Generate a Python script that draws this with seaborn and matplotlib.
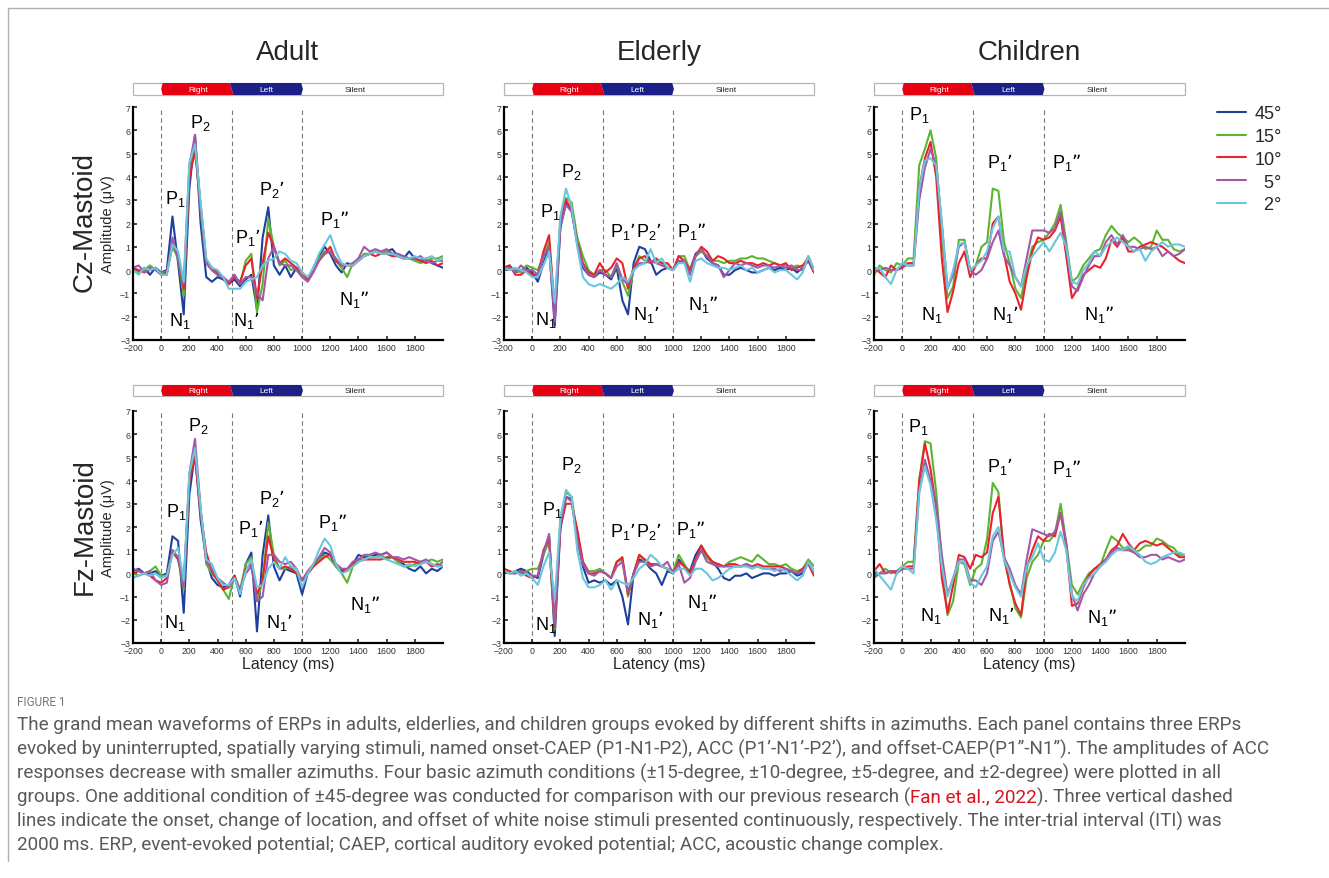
import matplotlib
matplotlib.use("Agg")
import matplotlib.pyplot as plt
from matplotlib.lines import Line2D
from matplotlib.patches import Rectangle
import pandas as pd
import seaborn as sns

# ---- data (uV), one value every 40 ms ----
LATENCY = [-200, -160, -120, -80, -40, 0, 40, 80, 120, 160,
           200, 240, 280, 320, 360, 400, 440, 480, 520, 560,
           600, 640, 680, 720, 760, 800, 840, 880, 920, 960,
           1000, 1040, 1080, 1120, 1160, 1200, 1240, 1280, 1320, 1360,
           1400, 1440, 1480, 1520, 1560, 1600, 1640, 1680, 1720, 1760,
           1800, 1840, 1880, 1920, 1960, 2000]

CONDITIONS = ["45°", "15°", "10°", "5°", "2°"]
COLORS = ["#1f3f9e", "#5cb531", "#e8232a", "#a456a8", "#6ac6dc"]
GROUPS = ["Adult", "Elderly", "Children"]
ELECTRODES = ["Cz-Mastoid", "Fz-Mastoid"]
STIM_EVENTS = [0, 500, 1000]          # onset, change of location, offset
STIM_NAMES = ["Right", "Left", "Silent"]

ADULT_CZ_45 = [0.1, -0.1, 0.1, -0.2, 0.1, -0.1, 0.0, 2.3, 0.3, -1.9,
               3.5, 5.8, 2.0, -0.3, -0.5, -0.3, -0.4, -0.6, -0.4, -0.7,
               -0.4, -0.2, -1.7, 1.4, 2.7, 0.2, -0.2, 0.2, -0.3, 0.1,
               -0.2, -0.4, 0.1, 0.6, 1.0, 0.7, 0.2, -0.1, 0.3, 0.2,
               0.5, 0.6, 0.7, 0.8, 0.7, 0.8, 0.9, 0.6, 0.5, 0.8,
               0.5, 0.4, 0.5, 0.3, 0.2, 0.1]
ADULT_CZ_15 = [0.0, -0.1, 0.0, 0.2, 0.0, -0.1, -0.1, 1.0, 0.5, -1.1,
               4.3, 5.5, 2.6, 0.3, 0.0, -0.2, -0.3, -0.6, -0.2, -0.6,
               0.4, 0.7, -1.8, -0.6, 2.2, 1.0, 0.2, 0.4, 0.0, 0.1,
               -0.2, -0.4, 0.0, 0.5, 0.8, 0.8, 0.4, 0.1, -0.3, 0.3,
               0.4, 0.7, 0.7, 0.8, 0.7, 0.8, 0.7, 0.6, 0.6, 0.5,
               0.4, 0.3, 0.4, 0.5, 0.5, 0.6]
ADULT_CZ_10 = [0.1, 0.0, -0.1, 0.0, 0.1, -0.2, -0.1, 1.2, 0.6, -0.8,
               4.0, 5.1, 2.8, 0.4, 0.1, -0.1, -0.3, -0.6, -0.3, -0.5,
               0.2, 0.5, -1.2, 0.3, 1.6, 1.0, 0.3, 0.5, 0.3, 0.1,
               -0.1, -0.4, 0.0, 0.4, 0.7, 1.0, 0.4, 0.2, 0.2, 0.2,
               0.4, 0.6, 0.7, 0.6, 0.7, 0.7, 0.6, 0.6, 0.5, 0.5,
               0.5, 0.4, 0.3, 0.4, 0.2, 0.3]
ADULT_CZ_5 = [0.1, 0.2, -0.1, 0.1, 0.0, -0.2, -0.2, 1.4, 0.5, -0.6,
              4.5, 5.8, 2.6, 0.3, 0.0, -0.2, -0.3, -0.5, -0.2, -0.6,
              -0.3, -0.3, -1.0, -1.3, 0.5, 1.0, 0.3, 0.2, 0.2, 0.0,
              -0.3, -0.5, -0.1, 0.4, 0.7, 0.8, 0.5, 0.2, 0.2, 0.3,
              0.5, 1.0, 0.8, 0.9, 0.8, 0.9, 0.7, 0.7, 0.6, 0.5,
              0.5, 0.6, 0.4, 0.3, 0.4, 0.4]
ADULT_CZ_2 = [0.0, -0.2, 0.1, 0.0, 0.1, -0.2, -0.2, 1.1, 0.8, -0.5,
              4.6, 5.4, 2.9, 0.5, 0.1, 0.0, -0.3, -0.8, -0.8, -0.8,
              -0.5, -0.4, -0.3, 0.2, 0.4, 0.5, 0.8, 0.7, 0.4, 0.3,
              -0.1, -0.3, 0.1, 0.7, 1.1, 1.5, 0.8, 0.3, 0.2, 0.2,
              0.4, 0.6, 0.7, 0.8, 0.7, 0.7, 0.7, 0.6, 0.5, 0.5,
              0.6, 0.5, 0.5, 0.6, 0.4, 0.5]

ADULT_FZ_45 = [0.1, 0.2, 0.0, 0.0, 0.1, -0.1, 0.0, 1.6, 1.4, -1.7,
               3.4, 5.2, 2.3, 0.6, -0.2, -0.5, -0.6, -0.5, -0.1, -1.0,
               0.4, 0.9, -2.5, 0.8, 2.5, 0.3, -0.3, 0.2, 0.1, 0.0,
               -0.9, 0.0, 0.3, 0.6, 0.9, 0.8, 0.3, 0.1, 0.1, 0.4,
               0.8, 0.7, 0.7, 0.8, 0.8, 0.9, 0.7, 0.5, 0.4, 0.2,
               0.1, 0.3, 0.0, 0.2, 0.1, 0.3]
ADULT_FZ_15 = [0.0, -0.1, 0.0, 0.1, 0.3, -0.1, -0.1, 0.9, 0.6, -0.7,
               4.0, 5.3, 2.7, 0.4, 0.0, -0.3, -0.7, -1.1, -0.1, -0.7,
               0.4, 0.7, -1.2, -0.3, 2.2, 0.8, 0.2, 0.2, 0.3, 0.0,
               -0.3, 0.0, 0.3, 0.6, 0.8, 0.6, 0.3, 0.0, -0.4, 0.3,
               0.5, 0.6, 0.7, 0.7, 0.8, 0.6, 0.7, 0.5, 0.3, 0.3,
               0.4, 0.5, 0.5, 0.6, 0.5, 0.6]
ADULT_FZ_10 = [0.0, 0.1, 0.0, -0.1, -0.3, -0.4, -0.2, 1.0, 0.6, -0.4,
               4.0, 5.0, 2.6, 0.9, 0.1, -0.3, -0.7, -0.6, -0.1, -0.8,
               0.2, 0.4, -0.9, -0.3, 1.6, 0.6, 0.2, 0.3, 0.2, 0.0,
               -0.3, 0.0, 0.3, 0.5, 0.7, 0.8, 0.4, 0.2, 0.1, 0.4,
               0.6, 0.6, 0.6, 0.6, 0.6, 0.7, 0.7, 0.6, 0.5, 0.5,
               0.5, 0.4, 0.5, 0.3, 0.4, 0.3]
ADULT_FZ_5 = [0.2, 0.1, 0.0, 0.1, -0.3, -0.5, -0.4, 1.0, 0.7, -0.6,
              4.3, 5.8, 2.8, 0.5, 0.2, -0.2, -0.4, -0.6, -0.2, -0.7,
              0.0, 0.3, -1.2, -1.0, 0.8, 0.8, 0.5, 0.4, 0.5, 0.2,
              -0.3, 0.1, 0.4, 0.7, 1.1, 0.9, 0.4, 0.2, 0.2, 0.5,
              0.6, 0.8, 0.8, 0.9, 0.8, 0.9, 0.7, 0.7, 0.6, 0.7,
              0.6, 0.5, 0.6, 0.4, 0.3, 0.5]
ADULT_FZ_2 = [-0.2, -0.1, 0.0, -0.1, 0.0, -0.2, -0.1, 0.8, 1.1, -0.3,
              4.3, 5.4, 2.8, 0.6, 0.4, -0.2, -0.5, -0.5, -0.2, -0.9,
              0.1, 0.6, -0.6, -0.5, 0.2, 0.5, 0.2, 0.7, 0.3, 0.2,
              -0.6, 0.0, 0.4, 1.0, 1.5, 1.2, 0.4, 0.0, 0.1, 0.3,
              0.5, 0.6, 0.7, 0.7, 0.7, 0.6, 0.5, 0.4, 0.3, 0.4,
              0.3, 0.4, 0.5, 0.4, 0.3, 0.3]

ELDERLY_CZ_45 = [0.1, 0.2, -0.1, 0.0, 0.1, -0.1, -0.5, 0.3, 1.0, -2.4,
                 1.8, 2.9, 2.6, 1.2, 0.1, -0.2, -0.3, -0.1, -0.2, -0.4,
                 0.1, -1.3, -1.9, 0.3, 1.0, 0.9, 0.4, -0.2, 0.0, 0.1,
                 0.0, 0.4, 0.3, 0.0, 0.7, 0.9, 0.5, 0.3, 0.2, -0.2,
                 -0.2, 0.0, 0.1, 0.0, -0.1, -0.1, 0.0, 0.1, 0.0, 0.1,
                 0.0, 0.1, -0.1, 0.1, 0.4, -0.1]
ELDERLY_CZ_15 = [0.0, 0.1, 0.0, -0.1, 0.2, 0.1, 0.0, 0.6, 1.2, -1.8,
                 2.2, 3.1, 2.9, 1.4, 0.6, 0.0, -0.2, 0.0, 0.0, -0.3,
                 0.2, -0.5, -1.1, 0.0, 0.6, 0.4, 0.3, 0.4, 0.3, 0.1,
                 0.0, 0.6, 0.6, 0.0, 0.6, 0.8, 0.6, 0.4, 0.4, 0.3,
                 0.4, 0.4, 0.5, 0.5, 0.6, 0.5, 0.5, 0.4, 0.3, 0.2,
                 0.2, 0.1, 0.2, 0.1, 0.6, 0.0]
ELDERLY_CZ_10 = [0.1, 0.2, -0.2, -0.2, 0.0, -0.2, -0.2, 0.8, 1.5, -1.7,
                 2.0, 3.0, 2.6, 1.2, 0.3, -0.1, -0.2, 0.3, -0.1, 0.1,
                 0.5, 0.3, -0.8, 0.1, 0.5, 0.6, 0.3, 0.5, 0.3, 0.3,
                 0.0, 0.6, 0.4, 0.0, 0.6, 1.0, 0.8, 0.4, 0.6, 0.5,
                 0.3, 0.3, 0.4, 0.3, 0.3, 0.2, 0.3, 0.2, 0.3, 0.2,
                 0.3, 0.0, 0.1, 0.2, 0.5, -0.1]
ELDERLY_CZ_5 = [0.0, 0.1, -0.1, 0.2, 0.0, 0.0, -0.2, 0.6, 1.0, -2.2,
                1.9, 2.8, 2.5, 1.1, 0.2, -0.2, -0.3, 0.0, -0.2, -0.3,
                0.3, -0.4, -0.6, 0.0, 0.3, 0.3, 0.4, 0.3, 0.2, 0.1,
                0.0, 0.4, 0.4, -0.2, 0.6, 0.9, 0.6, 0.3, 0.2, -0.3,
                0.0, 0.3, 0.2, 0.3, 0.2, 0.1, 0.2, 0.2, 0.1, 0.2,
                0.1, 0.2, 0.0, 0.0, 0.5, 0.0]
ELDERLY_CZ_2 = [0.1, 0.0, 0.1, 0.0, -0.1, -0.3, -0.3, 0.2, 0.8, -1.4,
                2.3, 3.5, 2.7, 1.0, -0.3, -0.6, -0.7, -0.6, -0.7, -0.8,
                -0.6, -0.3, -0.5, 0.0, 0.2, 0.3, 0.9, 0.3, 0.5, 0.1,
                0.0, 0.3, 0.3, -0.5, 0.4, 0.5, 0.3, 0.2, 0.1, 0.1,
                0.0, 0.1, 0.2, 0.0, 0.1, -0.1, 0.0, 0.1, -0.1, 0.0,
                0.0, -0.2, -0.4, -0.1, 0.6, 0.0]

ELDERLY_FZ_45 = [0.1, 0.0, 0.1, 0.2, 0.1, -0.1, -0.2, 0.8, 1.6, -2.7,
                 1.9, 3.3, 3.2, 1.5, 0.3, -0.4, -0.3, -0.4, -0.3, -0.5,
                 -0.3, -1.0, -2.2, 0.0, 0.6, 0.5, 0.2, 0.0, -0.5, 0.1,
                 0.0, 0.6, 0.3, 0.1, 0.8, 1.2, 0.7, 0.5, 0.2, -0.2,
                 -0.3, -0.1, -0.1, 0.0, -0.2, -0.1, 0.0, 0.0, -0.1, 0.0,
                 0.0, 0.1, -0.1, 0.0, 0.5, 0.0]
ELDERLY_FZ_15 = [0.1, 0.0, 0.1, 0.0, 0.1, 0.2, 0.2, 0.8, 1.4, -2.4,
                 2.3, 3.5, 3.3, 1.6, 0.5, 0.1, 0.1, 0.2, 0.0, -0.2,
                 0.5, 0.6, -1.0, 0.0, 0.8, 0.5, 0.3, 0.4, 0.3, 0.2,
                 0.1, 0.8, 0.4, 0.0, 0.6, 1.0, 0.7, 0.4, 0.4, 0.3,
                 0.5, 0.6, 0.7, 0.6, 0.5, 0.8, 0.6, 0.4, 0.4, 0.3,
                 0.4, 0.2, 0.1, 0.2, 0.6, 0.3]
ELDERLY_FZ_10 = [0.2, 0.1, 0.0, 0.1, -0.1, -0.2, -0.1, 1.0, 1.5, -2.3,
                 2.0, 3.0, 3.0, 1.9, 0.5, 0.0, 0.0, 0.1, 0.0, -0.2,
                 0.5, 0.7, -0.9, 0.0, 0.8, 0.6, 0.4, 0.4, 0.3, 0.2,
                 0.0, 0.5, 0.3, 0.0, 0.6, 1.2, 0.8, 0.5, 0.4, 0.3,
                 0.4, 0.4, 0.3, 0.4, 0.3, 0.4, 0.3, 0.3, 0.3, 0.3,
                 0.2, 0.1, 0.0, 0.2, 0.4, -0.1]
ELDERLY_FZ_5 = [0.1, 0.0, 0.0, 0.1, 0.0, -0.1, -0.1, 0.9, 1.7, -2.2,
                2.1, 3.3, 3.1, 1.4, 0.4, 0.0, -0.1, 0.1, 0.0, -0.2,
                0.3, 0.5, -0.8, 0.0, 0.5, 0.5, 0.3, 0.4, 0.3, 0.5,
                0.0, 0.4, -0.4, -0.2, 0.5, 1.0, 0.5, 0.4, 0.3, 0.3,
                0.3, 0.3, 0.3, 0.4, 0.3, 0.3, 0.2, 0.2, 0.2, 0.1,
                0.2, 0.1, 0.0, 0.1, 0.5, 0.0]
ELDERLY_FZ_2 = [0.1, 0.0, 0.1, -0.1, 0.0, -0.2, -0.5, 0.3, 0.9, -1.1,
                2.4, 3.6, 3.3, 1.0, -0.2, -0.6, -0.6, -0.5, -0.3, -0.7,
                -0.3, -0.4, -0.5, -0.2, 0.2, 0.4, 0.8, 0.6, 0.3, 0.2,
                0.0, 0.2, 0.2, -0.1, 0.2, 0.2, 0.0, -0.3, -0.2, 0.0,
                0.2, 0.3, 0.3, 0.3, 0.2, 0.3, 0.2, 0.2, 0.1, 0.2,
                0.1, -0.1, -0.3, -0.1, 0.5, 0.1]

# children were not tested at 45 deg
CHILDREN_CZ_15 = [-0.2, 0.2, 0.0, -0.1, 0.3, 0.2, 0.5, 0.5, 4.5, 5.2,
                  6.0, 4.8, 1.5, -1.2, -0.7, 1.3, 1.3, 0.0, 0.2, 1.0,
                  1.2, 3.5, 3.4, 1.2, 0.3, -0.8, -1.2, 0.0, 1.0, 1.2,
                  1.3, 1.6, 2.0, 2.8, 1.2, -0.5, -0.3, 0.2, 0.5, 0.8,
                  0.9, 1.5, 1.9, 1.6, 1.4, 1.2, 1.4, 1.2, 0.9, 1.0,
                  1.7, 1.3, 1.3, 0.9, 0.8, 0.9]
CHILDREN_CZ_10 = [0.1, -0.1, -0.3, 0.2, 0.0, 0.1, 0.3, 0.3, 3.5, 4.8,
                  5.5, 4.0, 0.5, -1.8, -0.9, 0.3, 0.8, -0.3, 0.2, 0.5,
                  0.5, 2.0, 2.3, 0.7, -0.5, -1.0, -1.7, -0.3, 0.8, 1.4,
                  1.3, 1.4, 1.7, 2.3, 0.6, -1.2, -0.8, -0.2, 0.0, 0.2,
                  0.1, 0.5, 1.3, 1.0, 1.4, 0.8, 0.8, 1.0, 1.1, 1.2,
                  1.1, 1.0, 0.8, 0.6, 0.4, 0.3]
CHILDREN_CZ_5 = [0.1, 0.0, 0.1, 0.0, 0.0, 0.2, 0.2, 0.2, 3.0, 4.4,
                 5.2, 4.5, 2.0, -0.8, -0.2, 1.0, 1.2, 0.0, -0.2, 0.0,
                 0.5, 1.2, 1.7, 0.6, 0.2, -0.3, -0.7, 0.5, 1.7, 1.7,
                 1.7, 1.6, 1.8, 2.5, 1.0, -0.7, -0.9, -0.3, 0.2, 0.6,
                 0.6, 1.2, 1.5, 1.1, 1.5, 1.0, 1.0, 0.9, 1.0, 0.9,
                 1.0, 0.6, 0.8, 0.6, 0.7, 0.9]
CHILDREN_CZ_2 = [0.0, 0.1, -0.3, -0.6, 0.0, 0.3, 0.2, 0.2, 3.5, 4.7,
                 4.8, 4.5, 2.0, -0.8, 0.0, 1.1, 1.2, 0.0, 0.2, 0.4,
                 0.8, 1.8, 2.3, 0.8, 0.8, -0.3, -0.7, 0.2, 0.6, 0.9,
                 1.2, 0.8, 1.2, 1.6, 1.0, -0.5, -0.6, 0.0, 0.3, 0.8,
                 0.6, 1.0, 1.2, 1.4, 1.2, 1.0, 0.8, 0.9, 0.4, 0.8,
                 1.0, 1.2, 1.0, 1.1, 1.1, 1.0]

CHILDREN_FZ_15 = [-0.1, 0.0, 0.2, 0.0, 0.1, 0.3, 0.5, 0.5, 4.0, 5.7,
                  5.6, 3.5, 0.5, -1.8, -1.2, 0.5, 0.4, -0.5, 0.2, 0.4,
                  1.5, 3.9, 3.5, 0.6, -0.4, -1.5, -1.9, -0.2, 0.5, 0.8,
                  1.4, 1.4, 1.7, 3.0, 1.3, -0.5, -0.9, -0.4, 0.0, 0.2,
                  0.3, 1.0, 1.6, 1.4, 1.1, 1.1, 0.9, 1.0, 1.2, 1.2,
                  1.5, 1.4, 1.2, 1.1, 0.8, 0.8]
CHILDREN_FZ_10 = [0.1, 0.4, 0.0, 0.1, 0.0, 0.2, 0.3, 0.3, 4.0, 5.6,
                  4.5, 2.8, -0.2, -1.7, -0.5, 0.8, 0.7, 0.2, 0.8, 0.7,
                  0.9, 2.6, 3.3, 0.8, -0.5, -1.3, -1.8, 0.2, 1.0, 1.6,
                  1.4, 1.7, 1.6, 2.6, 1.2, -1.4, -1.3, -0.6, -0.1, 0.2,
                  0.4, 0.6, 1.0, 1.2, 1.7, 1.3, 1.0, 1.3, 1.4, 1.3,
                  1.2, 1.3, 1.1, 0.9, 0.7, 0.7]
CHILDREN_FZ_5 = [-0.2, 0.0, 0.0, 0.1, 0.1, 0.2, 0.2, 0.2, 3.5, 4.9,
                 4.0, 3.0, 0.8, -0.9, -0.2, 0.6, 0.6, -0.3, -0.3, -0.5,
                 0.0, 1.4, 1.8, 0.7, 0.2, -0.5, -0.9, 0.6, 1.9, 1.8,
                 1.7, 1.6, 1.8, 2.6, 1.3, -0.9, -1.6, -0.9, -0.5, 0.0,
                 0.3, 0.6, 0.9, 1.1, 1.0, 1.0, 0.9, 0.7, 0.7, 0.8,
                 0.8, 0.6, 0.7, 0.6, 0.5, 0.6]
CHILDREN_FZ_2 = [0.2, -0.1, -0.4, -0.7, 0.0, 0.3, 0.2, 0.0, 3.5, 4.6,
                 3.8, 2.3, 0.3, -1.0, -0.2, 0.5, 0.5, -0.4, -0.6, -0.1,
                 0.3, 1.6, 2.0, 0.6, 0.0, -0.6, -1.0, 0.3, 0.7, 1.3,
                 0.6, 0.5, 0.9, 1.8, 1.0, -1.0, -1.2, -0.5, -0.2, 0.0,
                 0.3, 0.5, 0.8, 1.0, 1.0, 1.2, 1.0, 0.8, 0.5, 0.4,
                 0.5, 0.7, 0.8, 0.9, 0.9, 0.8]

# (row, col) -> list of (condition, values)
PANELS = {
    (0, 0): list(zip(CONDITIONS, [ADULT_CZ_45, ADULT_CZ_15, ADULT_CZ_10, ADULT_CZ_5, ADULT_CZ_2])),
    (1, 0): list(zip(CONDITIONS, [ADULT_FZ_45, ADULT_FZ_15, ADULT_FZ_10, ADULT_FZ_5, ADULT_FZ_2])),
    (0, 1): list(zip(CONDITIONS, [ELDERLY_CZ_45, ELDERLY_CZ_15, ELDERLY_CZ_10, ELDERLY_CZ_5, ELDERLY_CZ_2])),
    (1, 1): list(zip(CONDITIONS, [ELDERLY_FZ_45, ELDERLY_FZ_15, ELDERLY_FZ_10, ELDERLY_FZ_5, ELDERLY_FZ_2])),
    (0, 2): list(zip(CONDITIONS[1:], [CHILDREN_CZ_15, CHILDREN_CZ_10, CHILDREN_CZ_5, CHILDREN_CZ_2])),
    (1, 2): list(zip(CONDITIONS[1:], [CHILDREN_FZ_15, CHILDREN_FZ_10, CHILDREN_FZ_5, CHILDREN_FZ_2])),
}

P1, P2, N1 = "P$_1$", "P$_2$", "N$_1$"
P1p, P2p, N1p = "P$_1$\u2019", "P$_2$\u2019", "N$_1$\u2019"
P1pp, N1pp = "P$_1$\u201d", "N$_1$\u201d"

# component labels: (text, latency, amplitude) of the label's left baseline
PEAK_LABELS = {
    (0, 0): [(P1, 24, 2.87), (P2, 206, 6.14), (N1, 52, -2.35), (P1p, 525, 1.19),
             (N1p, 508, -2.35), (P2p, 697, 3.27), (P1pp, 1128, 1.98), (N1pp, 1265, -1.46)],
    (1, 0): [(P1, 33, 2.48), (P2, 189, 6.2), (N1, 17, -2.32), (P1p, 548, 1.76),
             (P2p, 697, 3.05), (N1p, 745, -2.32), (P1pp, 1116, 1.98), (N1pp, 1340, -1.53)],
    (0, 1): [(P1, 54, 2.34), (P2, 208, 4.06), (N1, 19, -2.32), (P1p, 551, 1.48),
             (P2p, 740, 1.48), (N1p, 717, -2.1), (P1pp, 1025, 1.48), (N1pp, 1103, -1.68)],
    (1, 1): [(P1, 71, 2.55), (P2, 208, 4.48), (N1, 19, -2.39), (P1p, 551, 1.62),
             (P2p, 734, 1.62), (N1p, 741, -2.18), (P1pp, 1020, 1.69), (N1pp, 1096, -1.46)],
    (0, 2): [(P1, 47, 6.5), (P1p, 597, 4.42), (P1pp, 1061, 4.42),
             (N1, 130, -2.1), (N1p, 632, -2.1), (N1pp, 1285, -2.1)],
    (1, 2): [(P1, 40, 6.13), (P1p, 597, 4.41), (P1pp, 1061, 4.34),
             (N1, 125, -2.03), (N1p, 608, -2.03), (N1pp, 1309, -2.1)],
}

CAPTION_LINES = [
    "The grand mean waveforms of ERPs in adults, elderlies, and children groups evoked by different shifts in azimuths. Each panel contains three ERPs",
    "evoked by uninterrupted, spatially varying stimuli, named onset-CAEP (P1-N1-P2), ACC (P1\u2019-N1\u2019-P2\u2019), and offset-CAEP(P1\u201d-N1\u201d). The amplitudes of ACC",
    "responses decrease with smaller azimuths. Four basic azimuth conditions (\u00b115-degree, \u00b110-degree, \u00b15-degree, and \u00b12-degree) were plotted in all",
    ["groups. One additional condition of \u00b145-degree was conducted for comparison with our previous research (",
     "Fan et al., 2022", "). Three vertical dashed"],
    "lines indicate the onset, change of location, and offset of white noise stimuli presented continuously, respectively. The inter-trial interval (ITI) was",
    "2000\u2009ms. ERP, event-evoked potential; CAEP, cortical auditory evoked potential; ACC, acoustic change complex.",
]

W, H = 1329, 879
PALETTE = dict(zip(CONDITIONS, COLORS))
STIM_RED = "#e60012"
STIM_BLUE = "#1d2088"


def fx(px):
    return px / W


def fy(py):
    return 1 - py / H


def panel_frame(series):
    frames = [pd.DataFrame({"latency": LATENCY, "amplitude": vals, "azimuth": cond})
              for cond, vals in series]
    return pd.concat(frames, ignore_index=True)


def draw_stim_bar(ax):
    ax.set_xlim(-200, 2000)
    ax.set_ylim(0, 1)
    ax.axis("off")
    ax.add_patch(Rectangle((-200, 0), 2200, 1, facecolor="white", edgecolor="#b5b5b5",
                           lw=0.9, clip_on=False))
    on, change, off = STIM_EVENTS
    ax.fill([on + 10, on, on + 10, change + 12, change - 12], [1, 0.5, 0, 0, 1],
            color=STIM_RED, lw=0, clip_on=False)
    ax.fill([change - 12, change + 12, off - 6, off + 6, off - 6], [1, 0, 0, 0.5, 1],
            color=STIM_BLUE, lw=0, clip_on=False)
    for name, x, c in zip(STIM_NAMES, [(on + change) / 2 + 10, (change + off) / 2,
                                       off + 380], ["white", "white", "#222222"]):
        ax.text(x, 0.48, name, ha="center", va="center", fontsize=6, color=c)


sns.set_style("ticks")
plt.rcParams["font.family"] = ["Liberation Sans", "DejaVu Sans"]
plt.rcParams["mathtext.default"] = "regular"

fig = plt.figure(figsize=(W / 100, H / 100), dpi=100)

col_left = [133, 504, 874]
col_width = [310, 310, 311]
row_top = [108, 412]
row_bottom = [341, 644]
bar_top = [84, 386]
bar_bottom = [96, 397]

legend_handles = None
for (r, c), series in PANELS.items():
    ax = fig.add_axes([fx(col_left[c]), fy(row_bottom[r]), fx(col_width[c]),
                       (row_bottom[r] - row_top[r]) / H])
    df = panel_frame(series)
    hue_order = [s[0] for s in series]
    sns.lineplot(data=df, x="latency", y="amplitude", hue="azimuth", hue_order=hue_order,
                 palette=PALETTE, estimator=None, linewidth=1.5, ax=ax,
                 legend=(r, c) == (0, 0))
    if (r, c) == (0, 0):
        legend_handles = ax.get_legend_handles_labels()
        ax.get_legend().remove()
    for ev in STIM_EVENTS:
        ax.axvline(ev, color="#777777", lw=0.8, ls=(0, (4, 3)), zorder=0)
    ax.set_xlim(-200, 2000)
    ax.set_ylim(-3, 7)
    ax.set_xticks(range(-200, 2000, 200))
    ax.set_yticks(range(-3, 8))
    ax.tick_params(direction="in", length=3, width=1.2, labelsize=6.3,
                   labelcolor="#333333", pad=2)
    for side in ("left", "bottom"):
        ax.spines[side].set_linewidth(1.6)
        ax.spines[side].set_color("black")
    sns.despine(ax=ax)
    ax.set_xlabel("Latency (ms)" if r == 1 else "", fontsize=11.5, labelpad=1)
    ax.set_ylabel("Amplitude (\u03bcV)" if c == 0 else "", fontsize=10.5)
    ax.yaxis.set_label_coords(-0.058, 0.5)
    for txt, x, y in PEAK_LABELS[(r, c)]:
        ax.text(x, y, txt, fontsize=13, ha="left", va="baseline", color="black")

    bar = fig.add_axes([fx(col_left[c]), fy(bar_bottom[r]), fx(col_width[c]),
                        (bar_bottom[r] - bar_top[r]) / H])
    draw_stim_bar(bar)

for c, name in enumerate(GROUPS):
    fig.text(fx(col_left[c] + col_width[c] / 2), fy(53), name, ha="center", va="center",
             fontsize=20)
for r, name in enumerate(ELECTRODES):
    fig.text(fx(85), fy([222, 527][r]), name, rotation=90, ha="center", va="center",
             fontsize=20)

handles, labels = legend_handles
labels = [lab if len(lab) == 3 else "  " + lab for lab in labels]
fig.legend(handles, labels, loc="upper left", bbox_to_anchor=(fx(1210), fy(99)),
           frameon=False, fontsize=13, handlelength=1.6, labelspacing=0.32,
           handletextpad=0.45, borderaxespad=0)

# page frame
fig.add_artist(Line2D([fx(8), 1], [fy(9), fy(9)], color="#b0b0b0", lw=1,
                      transform=fig.transFigure))
fig.add_artist(Line2D([fx(8), fx(8)], [fy(9), fy(862)], color="#b0b0b0", lw=1,
                      transform=fig.transFigure))

# caption
cap_font = "Roboto"
cap_color = "#595959"
fig.text(fx(17), fy(703), "FIGURE 1", fontsize=8.5, color="#777777", family=cap_font,
         va="center", ha="left")

renderer = fig.canvas.get_renderer()
probe = fig.text(0, 0, CAPTION_LINES[1], fontsize=12, family=cap_font)
probe_w = probe.get_window_extent(renderer).width
probe.remove()
cap_size = 12 * (1268 - 17) / probe_w

for i, line in enumerate(CAPTION_LINES):
    y = fy(725 + 24 * i)
    parts = line if isinstance(line, list) else [line]
    x = fx(17)
    for j, part in enumerate(parts):
        color = "#d7141e" if (len(parts) == 3 and j == 1) else cap_color
        t = fig.text(x, y, part, fontsize=cap_size, color=color, family=cap_font,
                     ha="left", va="center")
        x += t.get_window_extent(renderer).width / W

fig.savefig("out.png", dpi=100)
